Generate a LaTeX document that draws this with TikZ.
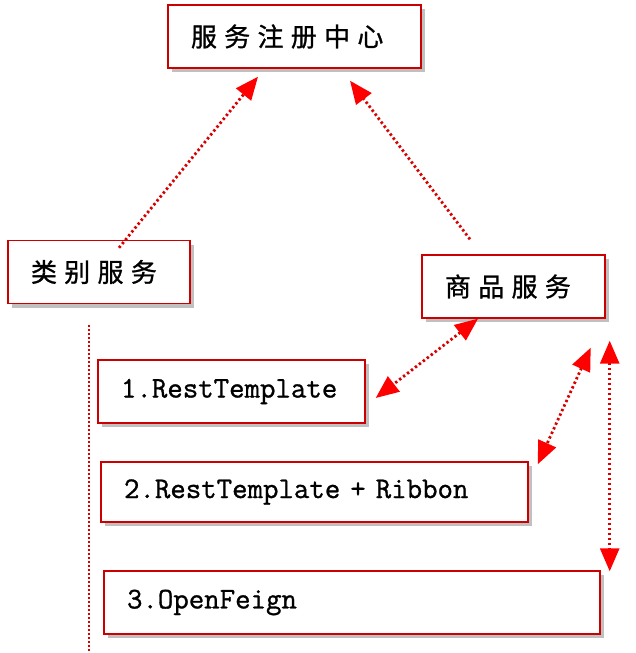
\documentclass[tikz,border=0pt]{standalone}
\usepackage{fontspec}
\setmonofont[FakeBold=1]{Latin Modern Mono}
\newfontfamily\cjk[LetterSpace=28,FakeBold=1]{Noto Sans CJK SC}
\usetikzlibrary{arrows.meta,shadows}

\tikzset{
  box/.style={rectangle, draw=red!80!black, line width=1.4pt, fill=white,
    inner xsep=23pt, inner ysep=0pt, align=left, minimum height=63pt,
    drop shadow={shadow xshift=4pt, shadow yshift=-4pt, opacity=0.35, fill=black!70}},
  cnbox/.style={box, font=\cjk\fontsize{26}{30}\selectfont},
  ttbox/.style={box, font=\ttfamily\fontsize{30}{34}\selectfont},
  link/.style={draw=red!85!black, line width=2.8pt, dash pattern=on 2.4pt off 2.6pt,
    -{Triangle[length=23pt,width=19pt,color=red]}},
  both/.style={link, {Triangle[length=23pt,width=19pt,color=red]}-{Triangle[length=23pt,width=19pt,color=red]}},
}

\begin{document}
\begin{tikzpicture}[x=1pt, y=-1pt]

\fill[white] (0,0) rectangle (636,653);
\useasboundingbox (0,0) rectangle (636,653);

% services
\node[cnbox, text width=207pt] (reg)   at (294.5,36.5) {服务注册中心};
\node[cnbox, text width=136pt] (cat)   at (99,272)     {类别服务};
\node[cnbox, text width=137pt] (goods) at (513.5,286.5) {商品服务};

% ways of calling
\node[ttbox, text width=221pt] (rt)  at (231.5,391.5) {1.RestTemplate};
\node[ttbox, text width=381pt, minimum height=60pt] (rib) at (314.5,492) {2.RestTemplate~+~Ribbon};
\node[ttbox, text width=450pt] (ofg) at (352,602.5) {3.OpenFeign};

% registration
\draw[link] ([xshift=20pt,yshift=-8pt]cat.north) -- ([xshift=-36.5pt,yshift=-8pt]reg.south);
\draw[link] ([xshift=-43.5pt,yshift=15pt]goods.north) -- ([xshift=55.5pt,yshift=-12pt]reg.south);

% calls
\draw[both] ([xshift=-35.5pt]goods.south) -- ([xshift=10pt,yshift=-6.5pt]rt.east);
\draw[both] ([xshift=-15pt,yshift=-29pt]goods.south east) -- ([xshift=9pt,yshift=-3pt]rib.north east);
\draw[both] ([xshift=4pt,yshift=-22pt]goods.south east) -- ([xshift=9pt,yshift=-1pt]ofg.north east);

% left dotted line
\coordinate (lineTop) at (89,325);
\coordinate (lineBot) at (89,653);
\draw[red!85!black, line width=2.6pt, dash pattern=on 2pt off 2pt] (lineTop) -- (lineBot);

\end{tikzpicture}
\end{document}
